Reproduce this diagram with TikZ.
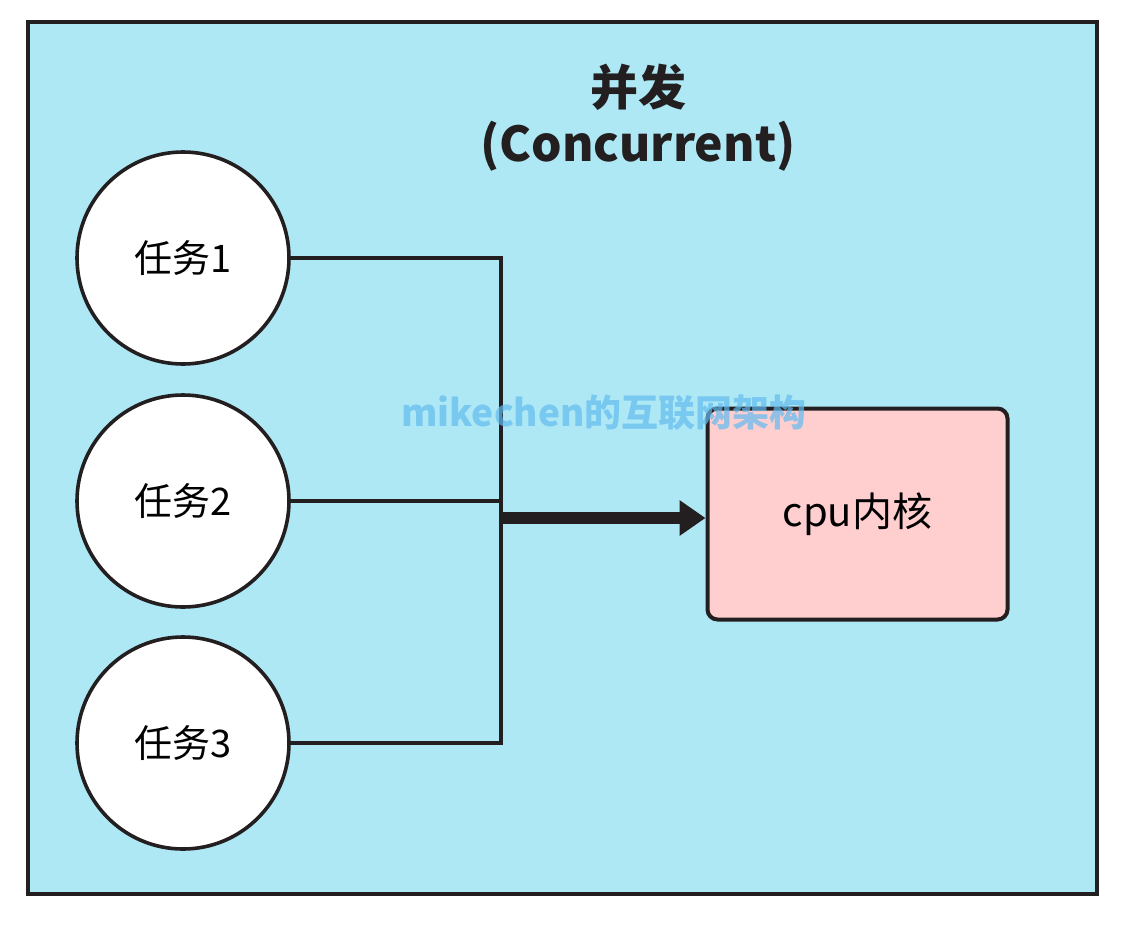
\documentclass[tikz,border=0pt]{standalone}
\usepackage{fontspec}
\setmainfont{Noto Sans CJK SC}
\usetikzlibrary{arrows.meta}
\definecolor{bgblue}{HTML}{AEE8F5}
\definecolor{boxpink}{HTML}{FFCFD0}
\definecolor{inkdark}{HTML}{231F20}
\definecolor{wmblue}{HTML}{62BBEF}
\tikzset{
  task/.style={circle, draw=inkdark, line width=3.6pt, fill=white, minimum size=212pt, inner sep=0pt, font=\fontsize{38}{44}\selectfont},
  core/.style={rectangle, draw=inkdark, line width=4pt, rounded corners=10pt, fill=boxpink, minimum width=300pt, minimum height=211pt, inner sep=0pt, font=\fontsize{40}{46}\selectfont},
  link/.style={draw=inkdark, line width=3.4pt, line join=miter},
  bigarrow/.style={draw=inkdark, line width=12pt, -{Triangle[length=26pt,width=34pt]}},
  titletext/.style={font=\fontsize{48}{56}\selectfont\bfseries, text=inkdark, inner sep=0pt}
}
\begin{document}
\begin{tikzpicture}[x=1pt,y=-1pt]
\useasboundingbox (0,0) rectangle (1140,932);
\fill[white] (0,0) rectangle (1140,932);
\draw[draw=inkdark, fill=bgblue, line width=4pt] (28,22) rectangle (1097,894);
\node[titletext] (title1) at (638,87) {并发};
\node[titletext] (title2) at (638,146) {(Concurrent)};
\node[task] (t1) at (183,258) {任务1};
\node[task] (t2) at (183,501) {任务2};
\node[task] (t3) at (183,743) {任务3};
\node[core] (cpu) at (857.5,514) {cpu内核};
\coordinate (jb) at (501,743);
\coordinate (ja) at (501,518);
\draw[link] (t1.east) -| (jb) -- (t3.east);
\draw[link] (t2.east) -- (t2.east -| jb);
\draw[bigarrow] (ja) -- (ja -| cpu.west);
\node[font=\fontsize{37}{42}\selectfont\bfseries, text=wmblue, opacity=0.7, inner sep=0pt] (wm) at (604,413) {mikechen的互联网架构};
\end{tikzpicture}
\end{document}
